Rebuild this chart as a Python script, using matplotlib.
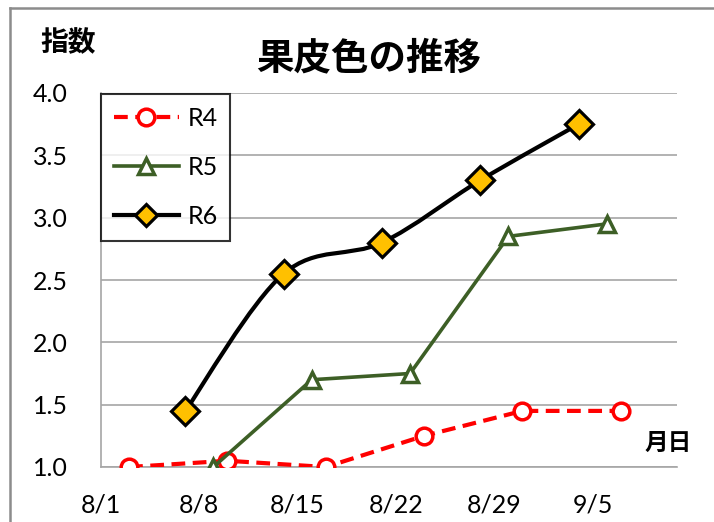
import numpy as np
import matplotlib
matplotlib.use('Agg')
import matplotlib.pyplot as plt
from matplotlib.lines import Line2D
from matplotlib.path import Path
from matplotlib.patches import PathPatch

# ---- data (x = day number, 8/1 = 1) ----
tick_days = [1, 8, 15, 22, 29, 36]
tick_labels = ['8/1', '8/8', '8/15', '8/22', '8/29', '9/5']
y_ticks = [1.0, 1.5, 2.0, 2.5, 3.0, 3.5, 4.0]

r4_days = [3, 10, 17, 24, 31, 38]
r4_vals = [1.0, 1.05, 1.0, 1.25, 1.45, 1.45]
r5_days = [9, 16, 23, 30, 37]
r5_vals = [1.0, 1.7, 1.75, 2.85, 2.95]
r6_days = [7, 14, 21, 28, 35]
r6_vals = [1.45, 2.55, 2.8, 3.3, 3.75]

title = '果皮色の推移'
ylabel = '指数'
xlabel = '月日'

RED = '#FF0000'
GREEN = '#3D5F26'
YELLOW = '#FFC000'
GRID = '#A6A6A6'

plt.rcParams['font.family'] = ['Lato', 'DejaVu Sans']
JP = ['Noto Sans CJK JP', 'DejaVu Sans']

fig = plt.figure(figsize=(7.14, 5.22), dpi=100)
W, H = 714, 522
ax = fig.add_axes([101 / W, 1 - 467 / H, 576 / W, 374 / H])


def smooth_path(xs, ys):
    """Excel-style smoothed line: cubic Bezier segments."""
    pts = np.column_stack([xs, ys]).astype(float)
    n = len(pts)
    verts = [pts[0]]
    codes = [Path.MOVETO]
    for i in range(n - 1):
        p0 = pts[i - 1] if i > 0 else pts[i]
        p1 = pts[i]
        p2 = pts[i + 1]
        p3 = pts[i + 2] if i + 2 < n else pts[i + 1]
        c1 = p1 + (p2 - p0) / 6.0
        c2 = p2 - (p3 - p1) / 6.0
        verts += [c1, c2, p2]
        codes += [Path.CURVE4] * 3
    return Path(verts, codes)


DASH = (0, (3.3, 1.8))

# R4 (straight, dashed)
ax.plot(r4_days, r4_vals, color=RED, lw=3, ls=DASH, dash_capstyle='butt',
        marker='o', ms=12, mfc='white', mec=RED, mew=2.5, zorder=4)

# R5 (straight)
ax.plot(r5_days, r5_vals, color=GREEN, lw=2.6, marker='^', ms=12, mfc='white',
        mec=GREEN, mew=2.5, zorder=4)

# R6 (smoothed)
ax.add_patch(PathPatch(smooth_path(r6_days, r6_vals), fill=False, edgecolor='black',
                       lw=3, zorder=3))
ax.plot(r6_days, r6_vals, ls='none', marker='D', ms=14, mfc=YELLOW, mec='black',
        mew=2.3, zorder=5)

ax.set_xlim(1, 42)
ax.set_ylim(1.0, 4.0)
ax.set_xticks(tick_days)
ax.set_xticklabels(tick_labels)
ax.set_yticks(y_ticks)
ax.set_yticklabels([f'{v:.1f}' for v in y_ticks])
ax.tick_params(axis='both', length=0, labelsize=18, colors='black')
ax.tick_params(axis='y', pad=24)
ax.tick_params(axis='x', pad=19)
ax.grid(axis='y', color=GRID, lw=1.2)
ax.set_axisbelow(True)
for s in ['top', 'right']:
    ax.spines[s].set_visible(False)
for s in ['left', 'bottom']:
    ax.spines[s].set_color(GRID)
    ax.spines[s].set_linewidth(1.2)

# texts
fig.text(369 / W, 1 - 58 / H, title, ha='center', va='center', fontsize=27,
         fontweight='bold', family=JP)
fig.text(68 / W, 1 - 43 / H, ylabel, ha='center', va='center', fontsize=20,
         fontweight='bold', family=JP)
fig.text(668 / W, 1 - 443 / H, xlabel, ha='center', va='center', fontsize=17,
         fontweight='bold', family=JP)

# legend
handles = [
    Line2D([], [], color=RED, lw=3, ls=DASH, dash_capstyle='butt', marker='o',
           ms=12, mfc='white', mec=RED, mew=2.5),
    Line2D([], [], color=GREEN, lw=2.6, marker='^', ms=12, mfc='white',
           mec=GREEN, mew=2.5),
    Line2D([], [], color='black', lw=3, marker='D', ms=11, mfc=YELLOW,
           mec='black', mew=2.3),
]
leg = fig.legend(handles, ['R4', 'R5', 'R6'], loc='upper left',
                 bbox_to_anchor=(101 / W, 1 - 94 / H), fontsize=18,
                 frameon=True, fancybox=False, edgecolor='black',
                 handlelength=2.6, handletextpad=0.35, labelspacing=1.05,
                 borderpad=0.5, borderaxespad=0)
leg.get_frame().set_linewidth(1.5)

# outer chart-area border
fig.add_artist(Line2D([10 / W, 10 / W], [0, 1 - 8 / H], transform=fig.transFigure,
                      color='#8C8C8C', lw=1.8))
fig.add_artist(Line2D([10 / W, 1], [1 - 8 / H, 1 - 8 / H], transform=fig.transFigure,
                      color='#8C8C8C', lw=1.8))

fig.savefig('out.png', dpi=100)
